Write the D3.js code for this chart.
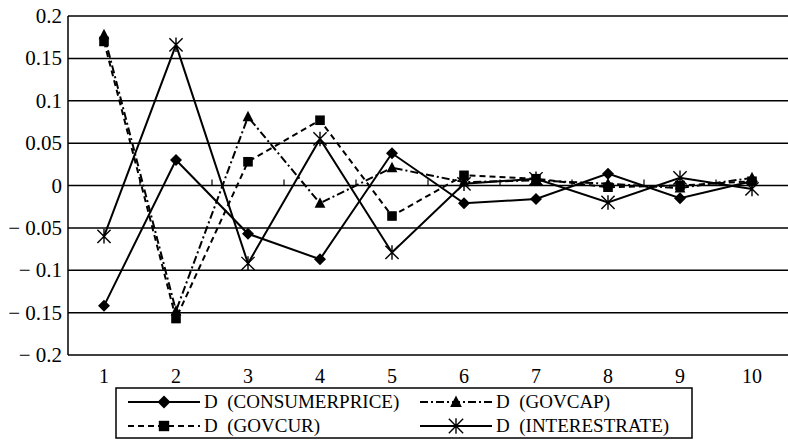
<!DOCTYPE html>
<html>
<head>
<meta charset="utf-8">
<script src="https://cdn.jsdelivr.net/npm/d3@7"></script>
<style>
  body { margin: 0; background: #fff; }
</style>
</head>
<body>
<div id="chart"></div>
<script>
// Data
const periods = [1, 2, 3, 4, 5, 6, 7, 8, 9, 10];
const consumerPrice = [-0.142, 0.030, -0.057, -0.087, 0.038, -0.021, -0.016, 0.014, -0.015, 0.005];
const govCap       = [0.178, -0.148, 0.081, -0.021, 0.021, 0.004, 0.006, 0.002, -0.003, 0.009];
const govCur       = [0.170, -0.157, 0.028, 0.077, -0.036, 0.012, 0.008, -0.002, 0.000, 0.005];
const interestRate = [-0.060, 0.166, -0.092, 0.055, -0.079, 0.002, 0.008, -0.020, 0.009, -0.004];
const yTicks = [0.2, 0.15, 0.1, 0.05, 0, -0.05, -0.1, -0.15, -0.2];

const series = [
  {name: "D\u00a0\u00a0(CONSUMERPRICE)", values: consumerPrice, dash: null, marker: "diamond"},
  {name: "D\u00a0\u00a0(GOVCAP)", values: govCap, dash: "8,3,2,3", marker: "triangle"},
  {name: "D\u00a0\u00a0(GOVCUR)", values: govCur, dash: "6,4", marker: "square"},
  {name: "D\u00a0\u00a0(INTERESTRATE)", values: interestRate, dash: null, marker: "asterisk"}
];

const W = 788, H = 444;
const margin = {top: 16, right: 0, bottom: 89, left: 68};
const width = W - margin.left - margin.right,
      height = H - margin.top - margin.bottom;
const serif = "Liberation Serif, serif";

const svg = d3.select("#chart")
  .append("svg")
    .attr("width", W)
    .attr("height", H);

const g = svg.append("g")
    .attr("transform", `translate(${margin.left},${margin.top})`);

const x = d3.scaleBand()
  .domain(periods)
  .range([0, width]);

const y = d3.scaleLinear()
  .domain([-0.2, 0.2])
  .range([height, 0]);

// horizontal grid lines
g.selectAll(".grid")
  .data(yTicks)
  .enter().append("line")
    .attr("x1", 0).attr("x2", width)
    .attr("y1", d => y(d)).attr("y2", d => y(d))
    .attr("stroke", "#000")
    .attr("stroke-width", 1.5);

// left axis line
g.append("line")
  .attr("x1", 0).attr("x2", 0)
  .attr("y1", 0).attr("y2", height)
  .attr("stroke", "#000").attr("stroke-width", 1.5);

// y labels
const fmt = d => d === 0 ? "0" : (d < 0 ? "\u2212\u00a0" + String(-d) : String(d));
g.selectAll(".ylab")
  .data(yTicks)
  .enter().append("text")
    .attr("x", -6)
    .attr("y", d => y(d) + 7)
    .attr("text-anchor", "end")
    .attr("font-family", serif)
    .style("font-size", "21px")
    .text(fmt);

// category ticks on the zero line
const bounds = periods.slice(1).map(p => x(p));
g.selectAll(".xtick")
  .data(bounds)
  .enter().append("line")
    .attr("x1", d => d).attr("x2", d => d)
    .attr("y1", y(0)).attr("y2", y(0) - 6)
    .attr("stroke", "#000").attr("stroke-width", 1.2);

// x labels
g.selectAll(".xlab")
  .data(periods)
  .enter().append("text")
    .attr("x", d => x(d) + x.bandwidth() / 2)
    .attr("y", height + 28)
    .attr("text-anchor", "middle")
    .attr("font-family", serif)
    .style("font-size", "20px")
    .text(d => d);

// marker drawing
function drawMarker(sel, type, size) {
  const h = size / 2;
  if (type === "diamond") {
    sel.append("path").attr("d", `M0,${-h}L${h},0L0,${h}L${-h},0Z`).attr("fill", "#000");
  } else if (type === "triangle") {
    sel.append("path").attr("d", `M0,${-h}L${h * 0.9},${h * 0.75}L${-h * 0.9},${h * 0.75}Z`).attr("fill", "#000");
  } else if (type === "square") {
    const s = size * 0.4;
    sel.append("rect").attr("x", -s).attr("y", -s).attr("width", 2 * s).attr("height", 2 * s).attr("fill", "#000");
  } else if (type === "asterisk") {
    const r = size * 0.55;
    sel.append("path")
      .attr("d", `M${-r},${-r}L${r},${r}M${-r},${r}L${r},${-r}M0,${-r * 1.1}L0,${r * 1.1}`)
      .attr("fill", "none")
      .attr("stroke", "#000").attr("stroke-width", 1.4);
  }
}

const line = d3.line()
  .x((d, i) => x(periods[i]) + x.bandwidth() / 2)
  .y(d => y(d));

series.forEach(s => {
  g.append("path")
    .datum(s.values)
    .attr("fill", "none")
    .attr("stroke", "#000")
    .attr("stroke-width", 2)
    .attr("stroke-dasharray", s.dash)
    .attr("d", line);
});

series.forEach(s => {
  g.selectAll(null)
    .data(s.values)
    .enter().append("g")
      .attr("transform", (d, i) => `translate(${x(periods[i]) + x.bandwidth() / 2},${y(d)})`)
      .each(function() { drawMarker(d3.select(this), s.marker, 12); });
});

// legend
const legend = svg.append("g").attr("transform", "translate(116,388)");
legend.append("rect")
  .attr("width", 576).attr("height", 50)
  .attr("fill", "#fff").attr("stroke", "#000").attr("stroke-width", 1.5);

const legendPos = [[12, 14], [304, 14], [12, 38], [304, 38]];
series.forEach((s, i) => {
  const [lx, ly] = legendPos[i];
  const item = legend.append("g").attr("transform", `translate(${lx},${ly})`);
  item.append("line")
    .attr("x1", 0).attr("x2", 72)
    .attr("stroke", "#000").attr("stroke-width", 2)
    .attr("stroke-dasharray", s.dash);
  drawMarker(item.append("g").attr("transform", "translate(36,0)"), s.marker, 13);
  item.append("text")
    .attr("x", 76).attr("y", 6)
    .attr("font-family", serif)
    .style("font-size", "19px")
    .text(s.name);
});
</script>
</body>
</html>
